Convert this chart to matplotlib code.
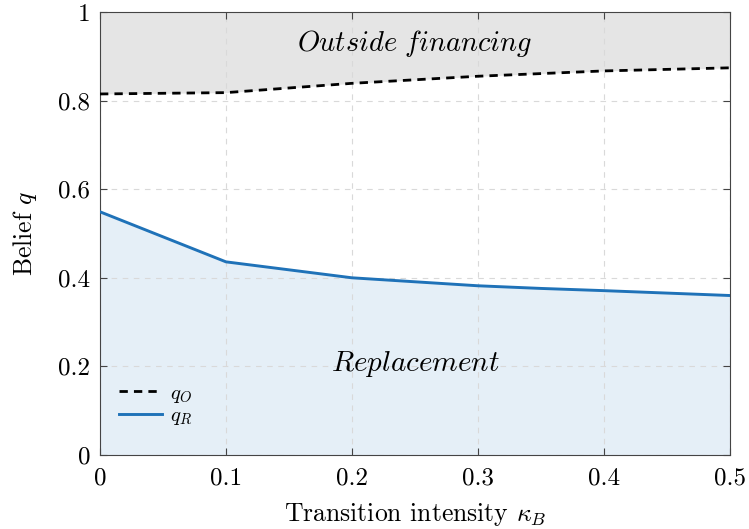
import matplotlib
matplotlib.use("Agg")
import matplotlib.pyplot as plt

plt.rcParams['font.family'] = 'cmr10'
plt.rcParams['mathtext.fontset'] = 'cm'
plt.rcParams['axes.formatter.use_mathtext'] = True

kappa = [0.0, 0.1, 0.2, 0.3, 0.35, 0.4, 0.5]
q_O = [0.815, 0.818, 0.839, 0.855, 0.861, 0.867, 0.874]
q_R = [0.549, 0.436, 0.400, 0.382, 0.376, 0.371, 0.360]
xticks = [0, 0.1, 0.2, 0.3, 0.4, 0.5]
yticks = [0, 0.2, 0.4, 0.6, 0.8, 1]

fig = plt.figure(figsize=(7.49, 5.29), dpi=100)
ax = fig.add_axes([0.1335, 0.1399, 0.841, 0.8374])

blue = '#1f72b8'
ax.fill_between(kappa, q_O, 1, color='#e5e5e5', lw=0, zorder=0)
ax.fill_between(kappa, 0, q_R, color='#e5eff7', lw=0, zorder=0)

ax.plot(kappa, q_O, color='black', ls=(0, (3, 2.2)), lw=2.0, label=r'$q_O$', zorder=3)
ax.plot(kappa, q_R, color=blue, lw=2.1, label=r'$q_R$', zorder=3)

ax.text(0.25, 0.93, r'$\mathit{Outside\ financing}$', ha='center', va='center', fontsize=20.5)
ax.text(0.25, 0.205, r'$\mathit{Replacement}$', ha='center', va='center', fontsize=21)

ax.set_xlim(0, 0.5)
ax.set_ylim(0, 1)
ax.set_xticks(xticks)
ax.set_yticks(yticks)
ax.set_xticklabels([f'{t:g}' for t in xticks])
ax.set_yticklabels([f'{t:g}' for t in yticks])
ax.tick_params(direction='in', length=5, labelsize=18, top=True, right=True, color='#444444')
ax.tick_params(axis='x', pad=9)
ax.tick_params(axis='y', pad=7)
ax.grid(True, ls=(0, (5, 5)), color='#d9d9d9', lw=0.8)
ax.set_axisbelow(True)
for s in ax.spines.values():
    s.set_color('#444444')

ax.set_xlabel(r'Transition intensity $\kappa_B$', fontsize=18.5, labelpad=8)
ax.set_ylabel(r'Belief $q$', fontsize=18.5, labelpad=14)

ax.legend(loc='lower left', bbox_to_anchor=(0.0, 0.02), frameon=False, fontsize=15,
          handlelength=2.1, handletextpad=0.35, labelspacing=0.1)

fig.savefig('out.png', dpi=100)
